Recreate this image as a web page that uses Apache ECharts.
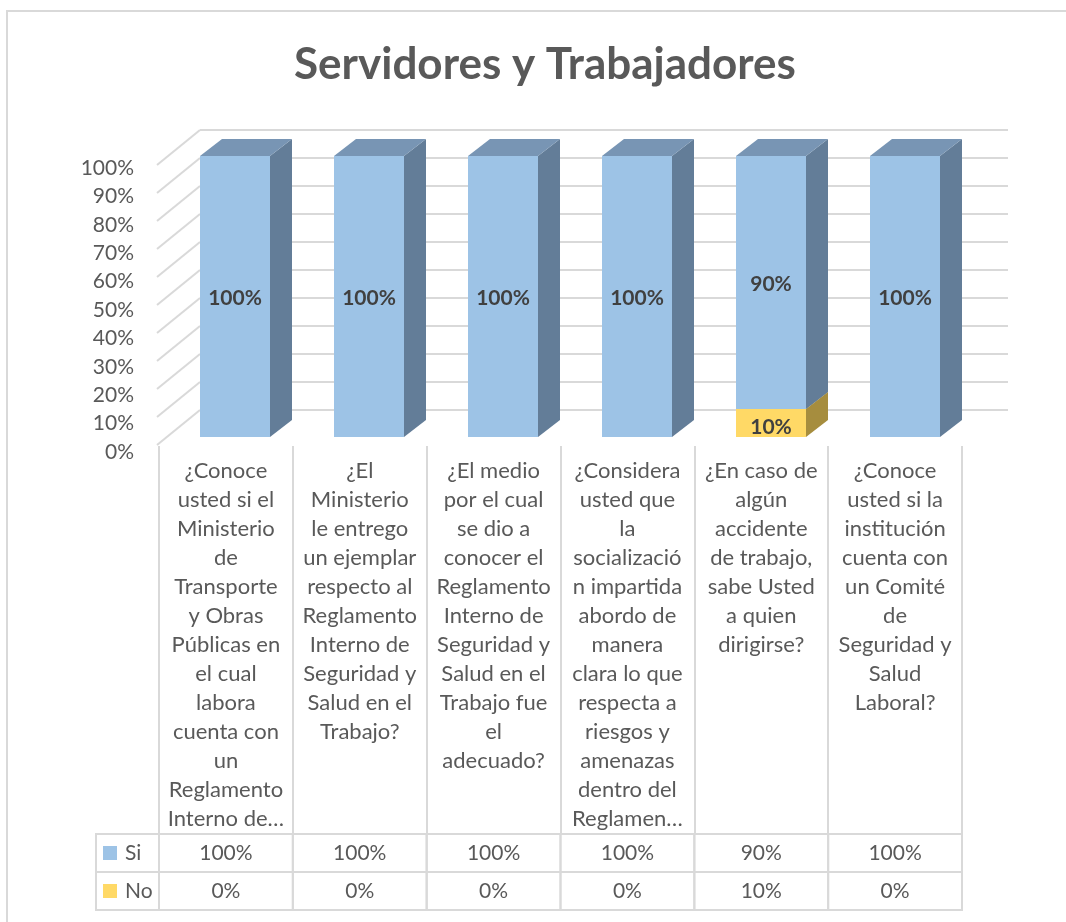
<!DOCTYPE html>
<html>
<head>
<meta charset="utf-8">
<script src="https://cdn.jsdelivr.net/npm/echarts@6/dist/echarts.min.js"></script>
<style>
  html, body { margin: 0; padding: 0; background: #fff; }
  #chart { width: 1066px; height: 922px; }
</style>
</head>
<body>
<div id="chart"></div>
<script>
// datos de la encuesta
const categorias = [
    '¿Conoce\nusted si el\nMinisterio\nde\nTransporte\ny Obras\nPúblicas en\nel cual\nlabora\ncuenta con\nun\nReglamento\nInterno de…',
    '¿El\nMinisterio\nle entrego\nun ejemplar\nrespecto al\nReglamento\nInterno de\nSeguridad y\nSalud en el\nTrabajo?',
    '¿El medio\npor el cual\nse dio a\nconocer el\nReglamento\nInterno de\nSeguridad y\nSalud en el\nTrabajo fue\nel\nadecuado?',
    '¿Considera\nusted que\nla\nsocializació\nn impartida\nabordo de\nmanera\nclara lo que\nrespecta a\nriesgos y\namenazas\ndentro del\nReglamen…',
    '¿En caso de\nalgún\naccidente\nde trabajo,\nsabe Usted\na quien\ndirigirse?',
    '¿Conoce\nusted si la\ninstitución\ncuenta con\nun Comité\nde\nSeguridad y\nSalud\nLaboral?'
];
const nombresSeries = ['Si', 'No'];
const valoresSi = [1, 1, 1, 1, 0.9, 1];
const valoresNo = [0, 0, 0, 0, 0.1, 0];
const yTicks = [0, 0.1, 0.2, 0.3, 0.4, 0.5, 0.6, 0.7, 0.8, 0.9, 1];

const FONT = 'Lato';
const GRIS = '#d9d9d9';
const TEXTO = '#595959';

const colSi = { front: '#9dc3e6', side: '#637d98', top: '#7895b4' };
const colNo = { front: '#ffd966', side: '#a68d3e', top: '#c9ab4f' };

function pct(v) {
    return Math.round(v * 100) + '%';
}

// barra "3D" estilo Excel: cara frontal, lateral y superior
function barra3d(colors) {
    return function (params, api) {
        const i = api.value(0);
        const ini = api.value(1);
        const fin = api.value(2);
        if (fin - ini <= 0) return null;
        const p1 = api.coord([i, fin]);
        const p0 = api.coord([i, ini]);
        const w = 70, dx = 22, dy = 17;
        const x0 = p1[0] - w / 2, x1 = p1[0] + w / 2;
        const yT = p1[1], yB = p0[1];
        // etiquetas pequeñas se bajan un poco, como en el original
        const yLbl = (yB - yT) < 40 ? yB - 10 : (yT + yB) / 2 + 2;
        return {
            type: 'group',
            children: [
                { type: 'rect', shape: { x: x0, y: yT, width: w, height: yB - yT }, style: { fill: colors.front } },
                { type: 'polygon', shape: { points: [[x1, yT], [x1 + dx, yT - dy], [x1 + dx, yB - dy], [x1, yB]] }, style: { fill: colors.side } },
                { type: 'polygon', shape: { points: [[x0, yT], [x0 + dx, yT - dy], [x1 + dx, yT - dy], [x1, yT]] }, style: { fill: colors.top } },
                {
                    type: 'text', x: (x0 + x1) / 2, y: yLbl,
                    style: {
                        text: pct(fin - ini), align: 'center', verticalAlign: 'middle',
                        fontFamily: FONT, fontWeight: 'bold', fontSize: 21, fill: '#404040'
                    }
                }
            ]
        };
    };
}

const chart = echarts.init(document.getElementById('chart'));

const hidden = { show: false };

const option = {
    animation: false,
    backgroundColor: '#fff',
    title: {
        text: 'Servidores y Trabajadores',
        left: 289,
        top: 38,
        textStyle: { fontFamily: FONT, fontWeight: 'bold', fontSize: 44, color: TEXTO }
    },
    graphic: [{
        type: 'rect', silent: true,
        shape: { x: 7, y: 11, width: 1200, height: 1000 },
        style: { fill: 'none', stroke: GRIS, lineWidth: 2 }
    }],
    grid: [
        { left: 200, top: 130, width: 808, height: 280 },   // pared del fondo
        { left: 157, top: 168, width: 10, height: 284 },    // etiquetas eje Y
        { left: 168, top: 156, width: 804, height: 281 },   // barras
        { left: 159, top: 446, width: 803, height: 388 },   // categorias
        { left: 159, top: 834, width: 803, height: 76 }     // tabla de datos
    ],
    xAxis: [
        { gridIndex: 0, type: 'category', data: categorias, axisLine: hidden, axisTick: hidden, axisLabel: hidden },
        { gridIndex: 1, type: 'category', data: ['a'], axisLine: hidden, axisTick: hidden, axisLabel: hidden },
        { gridIndex: 2, type: 'category', data: categorias, axisLine: hidden, axisTick: hidden, axisLabel: hidden },
        {
            gridIndex: 3, type: 'category', data: categorias, position: 'top',
            axisLine: hidden, axisTick: hidden,
            axisLabel: {
                inside: true, interval: 0, margin: 10, hideOverlap: false,
                fontFamily: FONT, fontSize: 22, lineHeight: 29, color: TEXTO,
                align: 'center', verticalAlign: 'top'
            },
            splitLine: { show: true, interval: 0, lineStyle: { color: GRIS, width: 2 } }
        },
        { gridIndex: 4, type: 'category', data: categorias, axisLine: hidden, axisTick: hidden, axisLabel: hidden }
    ],
    yAxis: [
        {
            gridIndex: 0, type: 'value', min: 0, max: 1, interval: 0.1,
            axisLine: hidden, axisTick: hidden, axisLabel: hidden,
            splitLine: { show: true, lineStyle: { color: GRIS, width: 2 } }
        },
        {
            gridIndex: 1, type: 'value', min: 0, max: 1, interval: 0.1,
            axisLine: hidden, axisTick: hidden, splitLine: hidden,
            axisLabel: { formatter: pct, margin: 23, fontFamily: FONT, fontSize: 21, color: TEXTO }
        },
        { gridIndex: 2, type: 'value', min: 0, max: 1, axisLine: hidden, axisTick: hidden, axisLabel: hidden, splitLine: hidden },
        { gridIndex: 3, type: 'value', min: 0, max: 1, axisLine: hidden, axisTick: hidden, axisLabel: hidden, splitLine: hidden },
        {
            gridIndex: 4, type: 'category', data: nombresSeries, inverse: true,
            axisLine: hidden, axisTick: hidden, splitLine: hidden,
            axisLabel: {
                align: 'left', margin: 56,
                formatter: v => '{c' + v + '|}{t|' + v + '}',
                rich: {
                    cSi: { width: 14, height: 14, backgroundColor: colSi.front },
                    cNo: { width: 14, height: 14, backgroundColor: colNo.front },
                    t: { fontFamily: FONT, fontSize: 21, color: TEXTO, padding: [0, 0, 0, 8] }
                }
            }
        }
    ],
    series: [
        {
            // lineas de la pared lateral
            type: 'custom', xAxisIndex: 0, yAxisIndex: 0, silent: true,
            data: yTicks.map(v => [0, v]),
            renderItem: function (params, api) {
                const y = api.coord([0, api.value(1)])[1];
                const xb = params.coordSys.x;
                return {
                    type: 'line',
                    shape: { x1: xb - 43, y1: y + 35, x2: xb, y2: y },
                    style: { stroke: GRIS, lineWidth: 2 }
                };
            }
        },
        {
            name: 'No', type: 'custom', xAxisIndex: 2, yAxisIndex: 2,
            data: valoresNo.map((v, i) => [i, 0, v]),
            encode: { x: 0, y: [1, 2] },
            renderItem: barra3d(colNo)
        },
        {
            name: 'Si', type: 'custom', xAxisIndex: 2, yAxisIndex: 2,
            data: valoresSi.map((v, i) => [i, valoresNo[i], valoresNo[i] + v]),
            encode: { x: 0, y: [1, 2] },
            renderItem: barra3d(colSi)
        },
        {
            // tabla de datos
            type: 'custom', xAxisIndex: 4, yAxisIndex: 4, silent: true,
            data: valoresSi.map((v, i) => [i, 0, v]).concat(valoresNo.map((v, i) => [i, 1, v])),
            renderItem: function (params, api) {
                const i = api.value(0), r = api.value(1), val = api.value(2);
                const c = api.coord([i, r]);
                const s = api.size([1, 1]);
                const children = [
                    { type: 'rect', shape: { x: c[0] - s[0] / 2, y: c[1] - s[1] / 2, width: s[0], height: s[1] }, style: { fill: 'none', stroke: GRIS, lineWidth: 2 } },
                    { type: 'text', x: c[0], y: c[1], style: { text: pct(val), align: 'center', verticalAlign: 'middle', fontFamily: FONT, fontSize: 21, fill: TEXTO } }
                ];
                if (i === 0) {
                    const left = params.coordSys.x;
                    children.push({ type: 'rect', shape: { x: left - 63, y: c[1] - s[1] / 2, width: 63, height: s[1] }, style: { fill: 'none', stroke: GRIS, lineWidth: 2 } });
                }
                return { type: 'group', children: children };
            }
        }
    ]
};

chart.setOption(option);
</script>
</body>
</html>
